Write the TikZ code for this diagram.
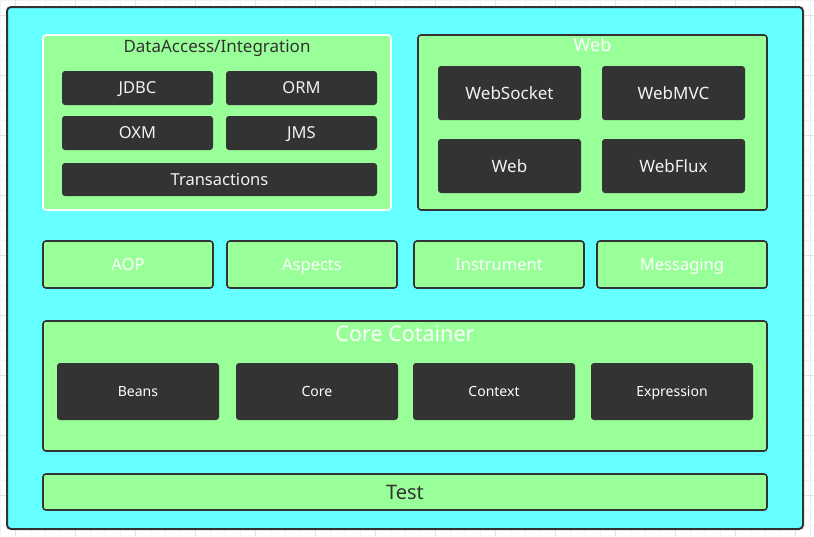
\documentclass[tikz,border=0pt]{standalone}
\usepackage{fontspec}
\setmainfont{Noto Sans}
\definecolor{cyanbg}{HTML}{66FFFF}
\definecolor{lgreen}{HTML}{99FF99}
\definecolor{darkbox}{HTML}{333333}
\definecolor{edge}{HTML}{333333}
\definecolor{txtlight}{HTML}{F2F2F2}
\definecolor{gridminor}{HTML}{F2F2F2}
\definecolor{gridmajor}{HTML}{E4E4E4}
\tikzset{
  outerbox/.style={draw=edge,line width=2pt,fill=cyanbg,rounded corners=4pt},
  greenbox/.style={draw=edge,line width=1.6pt,fill=lgreen,rounded corners=3pt},
  whitegreen/.style={draw=white,line width=1.6pt,fill=lgreen,rounded corners=3pt},
  darkcell/.style={draw=none,fill=darkbox,rounded corners=3pt},
  lbl/.style={inner sep=0pt,text depth=0pt},
  celltext/.style={lbl,text height=11.9pt,text=txtlight,font=\fontsize{16.5}{18}\selectfont},
  celltextb/.style={lbl,text height=12.2pt,text=txtlight,font=\fontsize{17}{19}\selectfont},
  rowtext/.style={lbl,text height=11.9pt,text=white,font=\fontsize{16.5}{18}\selectfont},
  coretext/.style={lbl,text height=10.1pt,text=white,font=\fontsize{14}{16}\selectfont},
}
\begin{document}
\begin{tikzpicture}[x=1pt,y=-1pt]
\useasboundingbox (0,0) rectangle (814,536);
\fill[white] (0,0) rectangle (814,536);
% grid
\foreach \g in {0,15,...,810} {\draw[gridminor,line width=0.6pt] (\g,0) -- (\g,536);}
\foreach \g in {0,15,...,535} {\draw[gridminor,line width=0.6pt] (0,\g) -- (814,\g);}
\foreach \g in {15,75,...,810} {\draw[gridmajor,line width=0.6pt] (\g,0) -- (\g,536);}
\foreach \g in {15,75,...,535} {\draw[gridmajor,line width=0.6pt] (0,\g) -- (814,\g);}
% outer
\path[outerbox] (7,7) rectangle (803,529);
\node[inner sep=0] (outer) at (405,268) {};
% DataAccess
\path[whitegreen] (43,35) rectangle (391,210);
\node[lbl,text height=12.2pt,text=edge,font=\fontsize{17}{19}\selectfont] (da) at (217,46) {DataAccess/Integration};
\path[darkcell] (62,71) rectangle (213,105);
\node[celltext] (jdbc) at (137.5,88) {JDBC};
\path[darkcell] (226,71) rectangle (377,105);
\node[celltext] (orm) at (301.5,88) {ORM};
\path[darkcell] (62,116) rectangle (213,150);
\node[celltext] (oxm) at (137.5,133) {OXM};
\path[darkcell] (226,116) rectangle (377,150);
\node[celltext] (jms) at (301.5,133) {JMS};
\path[darkcell] (62,163) rectangle (377,196);
\node[celltext] (tx) at (219.5,179.5) {Transactions};
% Web
\path[greenbox] (418,35) rectangle (767,210);
\node[lbl,text height=13pt,text=white,font=\fontsize{18}{20}\selectfont] (webt) at (592.5,45) {Web};
\path[darkcell] (438,66) rectangle (581,120);
\node[celltextb] (ws) at (509.5,93) {WebSocket};
\path[darkcell] (602,66) rectangle (745,120);
\node[celltextb] (mvc) at (673.5,93) {WebMVC};
\path[darkcell] (438,139) rectangle (581,193);
\node[celltextb] (web) at (509.5,166) {Web};
\path[darkcell] (602,139) rectangle (745,193);
\node[celltextb] (flux) at (673.5,166) {WebFlux};
% middle row
\path[greenbox] (43,241) rectangle (213,288);
\node[rowtext] (aop) at (128,265) {AOP};
\path[greenbox] (227,241) rectangle (397,288);
\node[rowtext] (asp) at (312,265) {Aspects};
\path[greenbox] (414,241) rectangle (584,288);
\node[rowtext] (ins) at (499,265) {Instrument};
\path[greenbox] (597,241) rectangle (767,288);
\node[rowtext] (msg) at (682,265) {Messaging};
% Core container
\path[greenbox] (43,321) rectangle (767,451);
\node[lbl,text height=15.5pt,text=white,font=\fontsize{21.5}{24}\selectfont] (coret) at (405,334) {Core Cotainer};
\path[darkcell] (57,363) rectangle (219,420);
\node[coretext] (beans) at (138,391.5) {Beans};
\path[darkcell] (236,363) rectangle (398,420);
\node[coretext] (core) at (317,391.5) {Core};
\path[darkcell] (413,363) rectangle (575,420);
\node[coretext] (ctx) at (494,391.5) {Context};
\path[darkcell] (591,363) rectangle (753,420);
\node[coretext] (expr) at (672,391.5) {Expression};
% Test
\path[greenbox] (43,474) rectangle (767,510);
\node[lbl,text height=14.4pt,text=edge,font=\fontsize{20}{22}\selectfont] (test) at (405,492) {Test};
\end{tikzpicture}
\end{document}
